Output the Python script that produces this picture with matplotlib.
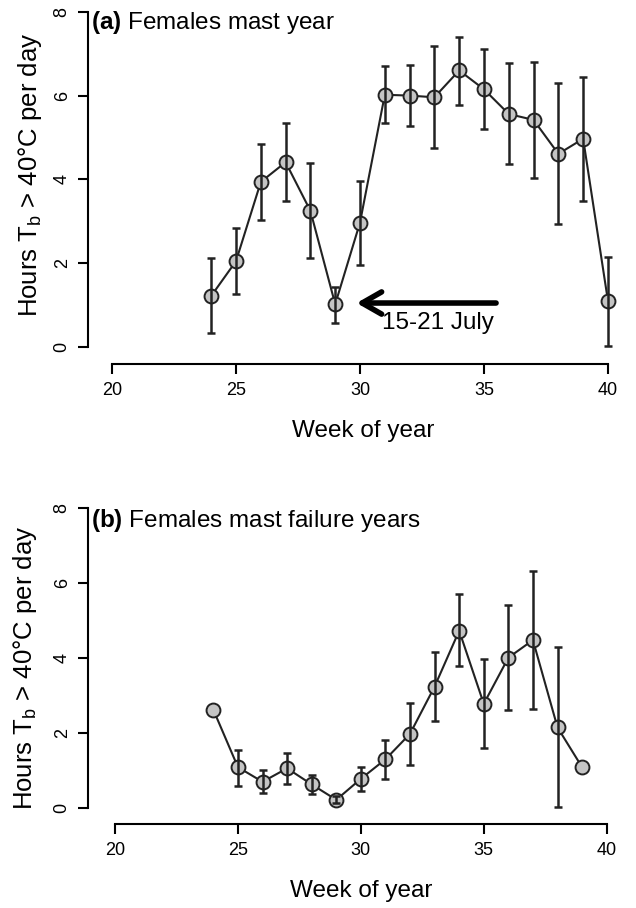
import numpy as np
import matplotlib
matplotlib.use("Agg")
import matplotlib.pyplot as plt

plt.rcParams['font.family'] = ['Liberation Sans', 'DejaVu Sans']
plt.rcParams['mathtext.fontset'] = 'custom'
plt.rcParams['mathtext.rm'] = 'Liberation Sans'
plt.rcParams['mathtext.bf'] = 'Liberation Sans:bold'
plt.rcParams['mathtext.default'] = 'regular'

# (a) females, mast year
weeks_a = [24, 25, 26, 27, 28, 29, 30, 31, 32, 33, 34, 35, 36, 37, 38, 39, 40]
mean_a = [1.22, 2.05, 3.94, 4.41, 3.25, 1.02, 2.97, 6.02, 6.00, 5.96, 6.60, 6.15, 5.56, 5.42, 4.61, 4.97, 1.10]
low_a = [0.33, 1.26, 3.02, 3.48, 2.12, 0.58, 1.96, 5.34, 5.27, 4.74, 5.78, 5.20, 4.36, 4.04, 2.94, 3.48, 0.03]
high_a = [2.13, 2.83, 4.85, 5.35, 4.38, 1.43, 3.97, 6.71, 6.73, 7.19, 7.41, 7.11, 6.77, 6.81, 6.29, 6.45, 2.16]

# (b) females, mast failure years (no error bar for weeks 24 and 39)
weeks_b = [24, 25, 26, 27, 28, 29, 30, 31, 32, 33, 34, 35, 36, 37, 38, 39]
mean_b = [2.61, 1.08, 0.69, 1.05, 0.62, 0.21, 0.77, 1.29, 1.97, 3.23, 4.72, 2.77, 4.00, 4.47, 2.14, 1.08]
low_b = [np.nan, 0.59, 0.38, 0.63, 0.36, 0.12, 0.45, 0.77, 1.14, 2.31, 3.78, 1.58, 2.60, 2.62, 0.03, np.nan]
high_b = [np.nan, 1.54, 1.00, 1.47, 0.87, 0.30, 1.09, 1.81, 2.80, 4.14, 5.69, 3.96, 5.40, 6.31, 4.29, np.nan]

xticks = [20, 25, 30, 35, 40]
yticks = [0, 2, 4, 6, 8]

W, H = 636, 908
fig = plt.figure(figsize=(W / 100, H / 100), dpi=100)

line_col = '#222222'
fill_col = '#c4c4c4'


def panel(rect, xlim, ylim, weeks, mean, low, high):
    ax = fig.add_axes(rect)
    weeks = np.array(weeks)
    mean = np.array(mean)
    low = np.array(low)
    high = np.array(high)
    ax.plot(weeks, mean, color=line_col, lw=1.5, marker='o', ms=10,
            mfc=fill_col, mec=line_col, mew=1.4, zorder=2)
    ok = ~np.isnan(low)
    ax.errorbar(weeks[ok], mean[ok], yerr=[mean[ok] - low[ok], high[ok] - mean[ok]],
                fmt='none', ecolor=line_col, elinewidth=1.8, capsize=2.6,
                capthick=1.8, zorder=3)
    ax.set_xlim(*xlim)
    ax.set_ylim(*ylim)
    for s in ['top', 'right']:
        ax.spines[s].set_visible(False)
    ax.spines['left'].set_bounds(0, 8)
    ax.spines['bottom'].set_bounds(20, 40)
    ax.spines['left'].set_linewidth(1.5)
    ax.spines['bottom'].set_linewidth(1.5)
    ax.set_xticks(xticks)
    ax.set_yticks(yticks)
    ax.tick_params(axis='both', length=7, width=1.5, labelsize=13)
    ax.tick_params(axis='x', pad=6)
    ax.tick_params(axis='y', pad=5.5, labelrotation=90)
    for lab in ax.get_yticklabels():
        lab.set_va('center')
    return ax


ax1 = panel([88 / W, 1 - 364.2 / H, 544 / W, 356.6 / H], (19.03, 40.97), (-0.41, 8.1),
            weeks_a, mean_a, low_a, high_a)
ax2 = panel([88 / W, 1 - 824.3 / H, 544 / W, 320.35 / H], (18.90, 41.03), (-0.443, 8.1),
            weeks_b, mean_b, low_b, high_b)

# arrow marking 15-21 July
ax1.annotate('', xy=(29.75, 1.05), xytext=(35.6, 1.05),
             arrowprops=dict(arrowstyle='->,head_length=0.7,head_width=0.4',
                             lw=4, color='black', mutation_scale=20))
ax1.text(33.15, 0.57, '15-21 July', ha='center', va='center', fontsize=17.5)

ylab = 'Hours T$_{b}$ > 40°C per day'
fig.text(30 / W, 1 - 175 / H, ylab, rotation=90, ha='center', va='center', fontsize=18.5)
fig.text(25 / W, 1 - 668 / H, ylab, rotation=90, ha='center', va='center', fontsize=18.5)
fig.text(363 / W, 1 - 436.7 / H, 'Week of year', ha='center', va='baseline', fontsize=17.5)
fig.text(361 / W, 1 - 896.5 / H, 'Week of year', ha='center', va='baseline', fontsize=17.5)

fig.text(91 / W, 1 - 23 / H, r'$\bf{(a)}$ Females mast year', ha='left', va='center', fontsize=17.5)
fig.text(91 / W, 1 - 521 / H, r'$\bf{(b)}$ Females mast failure years', ha='left', va='center', fontsize=17.5)

fig.savefig('out.png', dpi=100)
